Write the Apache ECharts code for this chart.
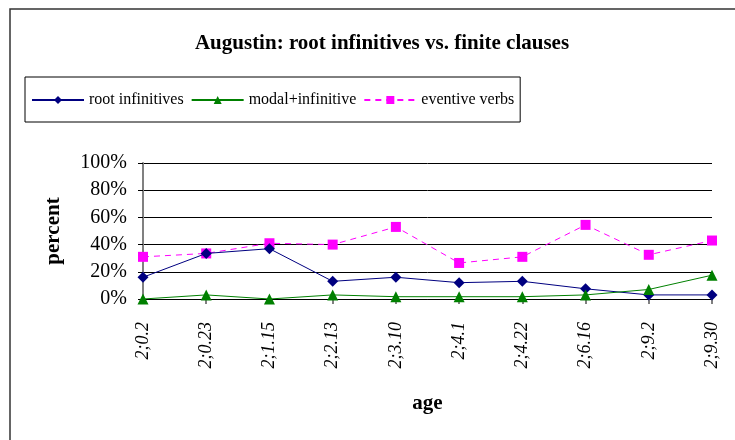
<!DOCTYPE html>
<html>
<head>
<meta charset="utf-8">
<script src="https://cdn.jsdelivr.net/npm/echarts@6/dist/echarts.min.js"></script>
<style>
  html, body { margin: 0; padding: 0; background: #fff; }
  #chart { width: 735px; height: 440px; }
</style>
</head>
<body>
<div id="chart"></div>
<script>
// ages (x categories)
const ages = ['2;0.2', '2;0.23', '2;1.15', '2;2.13', '2;3.10', '2;4.1', '2;4.22', '2;6.16', '2;9.2', '2;9.30'];

// percentages
const rootInfinitives = [16, 33.5, 37, 13, 16, 12, 13, 7.5, 3, 3];
const modalInfinitive = [0, 3, 0, 3, 1.7, 1.7, 1.7, 3, 7, 17.5];
const eventiveVerbs = [31, 33.5, 41, 40, 53, 26.5, 31, 54.5, 32.5, 43];

const yTicks = [0, 20, 40, 60, 80, 100];

const serif = '"Liberation Serif", "DejaVu Serif", serif';

const chart = echarts.init(document.getElementById('chart'));

chart.setOption({
  animation: false,
  backgroundColor: '#fff',
  title: {
    text: 'Augustin: root infinitives vs. finite clauses',
    left: 377,
    textAlign: 'center',
    top: 28,
    textStyle: { fontFamily: serif, fontSize: 21, fontWeight: 'bold', color: '#000' }
  },
  legend: {
    left: 25,
    top: 77,
    orient: 'horizontal',
    borderColor: '#000',
    borderWidth: 1,
    padding: [15, 6, 14, 6],
    itemWidth: 52,
    itemHeight: 10,
    itemGap: 7,
    textStyle: { fontFamily: serif, fontSize: 16, color: '#000' },
    data: ['root infinitives', 'modal+infinitive', 'eventive verbs']
  },
  graphic: [{
    type: 'rect',
    shape: { x: 10, y: 9, width: 800, height: 500 },
    style: { fill: 'none', stroke: '#333', lineWidth: 1.5 },
    silent: true
  }],
  grid: { left: 143, right: 23, top: 163, bottom: 141 },
  xAxis: {
    type: 'category',
    data: ages,
    boundaryGap: false,
    name: 'age',
    nameLocation: 'middle',
    nameGap: 94,
    nameTextStyle: { fontFamily: serif, fontSize: 21, fontWeight: 'bold', color: '#000' },
    axisLine: { lineStyle: { color: '#000', width: 1 } },
    axisTick: { show: true, length: 5, lineStyle: { color: '#808080', width: 2 } },
    axisLabel: {
      rotate: 90,
      margin: 23,
      fontFamily: serif,
      fontStyle: 'italic',
      fontSize: 18,
      color: '#000'
    }
  },
  yAxis: {
    type: 'value',
    min: yTicks[0],
    max: yTicks[yTicks.length - 1],
    interval: 20,
    name: 'percent',
    nameLocation: 'middle',
    nameGap: 79,
    nameTextStyle: { fontFamily: serif, fontSize: 21, fontWeight: 'bold', color: '#000' },
    axisLine: { show: true, lineStyle: { color: '#808080', width: 2 } },
    axisTick: { show: true, length: 5, lineStyle: { color: '#000' } },
    axisLabel: {
      margin: 16,
      fontFamily: serif,
      fontSize: 20,
      color: '#000',
      formatter: v => v + '%'
    },
    splitLine: { show: true, lineStyle: { color: '#000', width: 1 } }
  },
  series: [
    {
      name: 'root infinitives',
      type: 'line',
      data: rootInfinitives,
      symbol: 'diamond',
      symbolSize: 11,
      itemStyle: { color: '#000080' },
      lineStyle: { color: '#000080', width: 1 },
      z: 3
    },
    {
      name: 'modal+infinitive',
      type: 'line',
      data: modalInfinitive,
      symbol: 'triangle',
      symbolSize: 11,
      itemStyle: { color: '#008000' },
      lineStyle: { color: '#008000', width: 1 },
      z: 4
    },
    {
      name: 'eventive verbs',
      type: 'line',
      data: eventiveVerbs,
      symbol: 'rect',
      symbolSize: 10,
      itemStyle: { color: '#ff00ff' },
      lineStyle: { color: '#ff00ff', width: 1, type: [6, 5] },
      z: 2
    }
  ]
});
</script>
</body>
</html>
